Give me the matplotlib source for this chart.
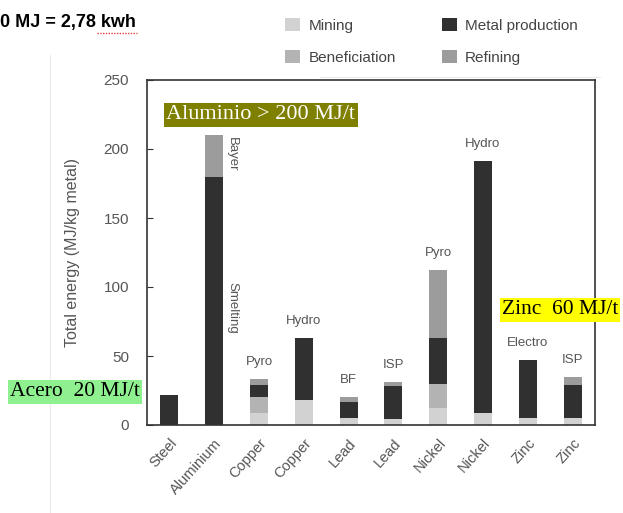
import matplotlib.pyplot as plt
from matplotlib.patches import Patch
from matplotlib.lines import Line2D

# ------------------------------
# Data
# ------------------------------
METALS = ["Steel", "Aluminium", "Copper", "Copper", "Lead",
          "Lead", "Nickel", "Nickel", "Zinc", "Zinc"]
PROCESSES = ["", "", "Pyro", "Hydro", "BF", "ISP", "Pyro", "Hydro", "Electro", "ISP"]

mining = [0, 0, 9, 18, 5, 4, 12, 9, 5, 5]
beneficiation = [0, 0, 11, 0, 0, 0, 18, 0, 0, 0]
metal_production = [22, 180, 9, 45, 12, 24, 33, 182, 42, 24]
refining = [0, 30, 4, 0, 3, 3, 49, 0, 0, 6]

STAGES = ["Mining", "Beneficiation", "Metal production", "Refining"]
COLORS = ["#d2d2d2", "#b3b3b3", "#303030", "#9c9c9c"]

GREY = "#555555"
W, H = 623, 513


def fx(px):
    return px / W


def fy(py):
    return 1 - py / H


# ------------------------------
# Figure
# ------------------------------
fig = plt.figure(figsize=(W / 100, H / 100), dpi=100)

# faint slide guide lines
fig.add_artist(Line2D([fx(50), fx(50)], [fy(55), fy(513)], color="#ececec", lw=0.8))
fig.add_artist(Line2D([fx(320), fx(600)], [fy(77), fy(77)], color="#ececec", lw=0.8))

ax = fig.add_axes([fx(147), fy(425), fx(595) - fx(147), fy(80) - fy(425)])

x = list(range(len(METALS)))
bottom = [0] * len(METALS)
for name, vals, col in zip(STAGES, [mining, beneficiation, metal_production, refining], COLORS):
    ax.bar(x, vals, width=0.4, bottom=bottom, color=col, edgecolor="none")
    bottom = [b + v for b, v in zip(bottom, vals)]

# process labels above bars
for i, proc in enumerate(PROCESSES):
    if proc:
        ax.annotate(proc, (i, bottom[i]), xytext=(0, 8), textcoords="offset points",
                    ha="center", va="bottom", fontsize=9.5, color=GREY,
                    family="Liberation Sans")

# aluminium sub-labels
ax.text(1.4, 196, "Bayer", rotation=270, ha="center", va="center",
        fontsize=9.5, color=GREY, family="Liberation Sans")
ax.text(1.4, 85, "Smelting", rotation=270, ha="center", va="center",
        fontsize=9.5, color=GREY, family="Liberation Sans")

ax.set_xlim(-0.5, len(METALS) - 0.5)
ax.set_ylim(0, 250)
ax.set_yticks([0, 50, 100, 150, 200, 250])
ax.set_xticks(x)
ax.set_xticklabels(METALS, rotation=48, ha="right", rotation_mode="anchor",
                   fontsize=10.5, color=GREY, family="Liberation Sans")
for lab in ax.get_yticklabels():
    lab.set_family("Liberation Sans")
ax.tick_params(axis="y", direction="in", length=4, pad=13, labelsize=11,
               labelcolor=GREY, color="#333333")
ax.tick_params(axis="x", length=0, pad=8)

ax.set_ylabel("Total energy (MJ/kg metal)", fontsize=11.5, color=GREY,
              family="Liberation Sans")
ax.yaxis.set_label_coords(-0.15, 0.5)

for side in ["left", "bottom", "top", "right"]:
    ax.spines[side].set_color("#333333")
    ax.spines[side].set_linewidth(1.2)

# legend
handles = [Patch(facecolor=c, edgecolor="none", label=s) for s, c in zip(STAGES, COLORS)]
leg = fig.legend(handles=handles, loc="upper left", bbox_to_anchor=(fx(277), fy(10)),
                 ncol=2, frameon=False, borderpad=0, handlelength=1.0, handleheight=1.0,
                 handletextpad=0.55, labelspacing=1.1, columnspacing=3.0,
                 prop={"family": "Liberation Sans", "size": 11})
for t in leg.get_texts():
    t.set_color("#444444")

# annotations from the slide
fig.text(fx(0), fy(22), "0 MJ = 2,78 kwh", ha="left", va="center",
         fontsize=13, fontweight="bold", family="Liberation Sans")
fig.add_artist(Line2D([fx(97), fx(137)], [fy(33), fy(33)], color="#e04040",
                      lw=1.0, ls=(0, (1, 1))))

fig.text(fx(261), fy(115), "Aluminio > 200 MJ/t", ha="center", va="center",
         fontsize=16, color="white", family="Liberation Serif",
         bbox=dict(boxstyle="square,pad=0.1", facecolor="#7f7f00", edgecolor="none"))
fig.text(fx(75), fy(392), "Acero  20 MJ/t", ha="center", va="center",
         fontsize=15.5, color="black", family="Liberation Serif",
         bbox=dict(boxstyle="square,pad=0.1", facecolor="#8ff08f", edgecolor="none"))
fig.text(fx(560), fy(310), "Zinc  60 MJ/t", ha="center", va="center",
         fontsize=15.5, color="black", family="Liberation Serif",
         bbox=dict(boxstyle="square,pad=0.1", facecolor="#ffff00", edgecolor="none"))

fig.savefig("out.png", dpi=100)
